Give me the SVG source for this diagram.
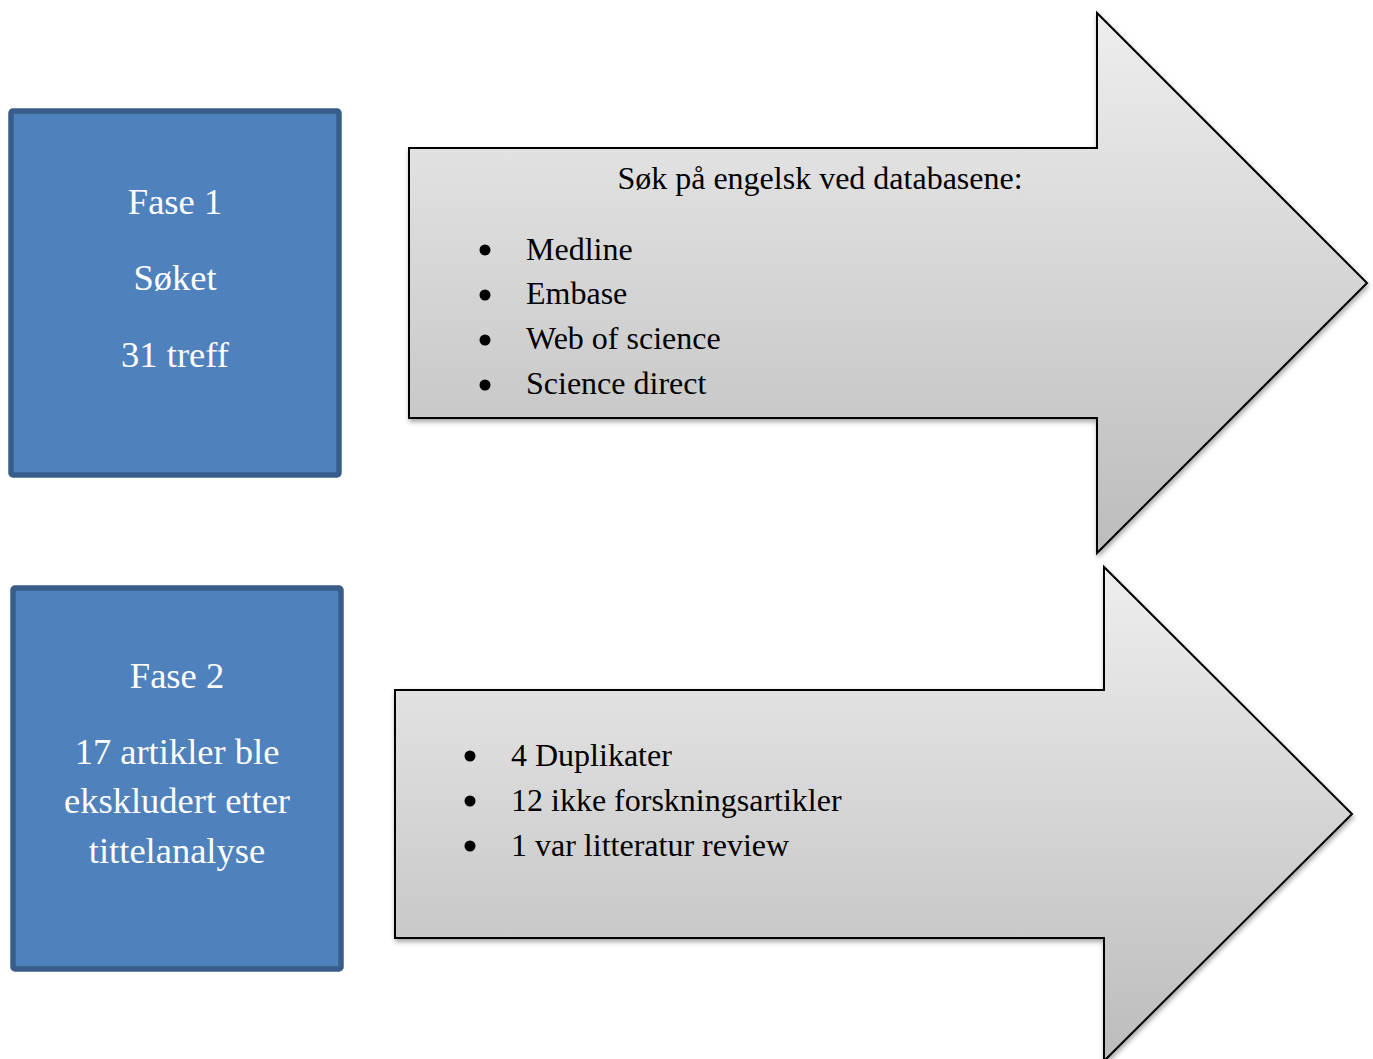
<svg xmlns="http://www.w3.org/2000/svg" width="1373" height="1059" viewBox="0 0 1373 1059">
<style>
.box{fill:#4f81bd;stroke:#385d8a;stroke-width:5.5}
.arr{fill:url(#g);stroke:#000;stroke-width:2;filter:url(#sh)}
.bt{font-family:"Liberation Serif","Times New Roman",serif;font-size:36.5px;fill:#fff;text-anchor:middle}
.at{font-family:"Liberation Serif","Times New Roman",serif;font-size:32px;fill:#000}
.dot{fill:#000}
</style>
<defs>
<linearGradient id="g" x1="0" y1="0" x2="0" y2="1">
<stop offset="0" stop-color="#eeeeee"/>
<stop offset="1" stop-color="#bcbcbc"/>
</linearGradient>
<filter id="sh" x="-5%" y="-5%" width="110%" height="110%">
<feDropShadow dx="1" dy="3" stdDeviation="2.5" flood-color="#000" flood-opacity="0.35"/>
</filter>
</defs>
<g id="fase1">
<rect class="box" x="11" y="111" width="328" height="364" rx="2"/>
<text class="bt" x="175" y="214">Fase 1</text>
<text class="bt" x="175" y="290">Søket</text>
<text class="bt" x="175" y="367">31 treff</text>
</g>
<g id="arrow1">
<path class="arr" d="M409,148 H1097 V13 L1367,283 L1097,553 V418 H409 Z"/>
<text class="at" x="820" y="189" text-anchor="middle">Søk på engelsk ved databasene:</text>
<circle class="dot" cx="485" cy="250" r="5.5"/>
<text class="at" x="526" y="260">Medline</text>
<circle class="dot" cx="485" cy="295" r="5.5"/>
<text class="at" x="526" y="304">Embase</text>
<circle class="dot" cx="485" cy="340" r="5.5"/>
<text class="at" x="526" y="349">Web of science</text>
<circle class="dot" cx="485" cy="385" r="5.5"/>
<text class="at" x="526" y="394">Science direct</text>
</g>
<g id="fase2">
<rect class="box" x="13" y="588" width="328" height="381" rx="2"/>
<text class="bt" x="177" y="688">Fase 2</text>
<text class="bt" x="177" y="764">17 artikler ble</text>
<text class="bt" x="177" y="813">ekskludert etter</text>
<text class="bt" x="177" y="863">tittelanalyse</text>
</g>
<g id="arrow2">
<path class="arr" d="M395,690 H1104 V567 L1352,814 L1104,1061 V938 H395 Z"/>
<circle class="dot" cx="470" cy="756" r="5.5"/>
<text class="at" x="511" y="766">4 Duplikater</text>
<circle class="dot" cx="470" cy="801" r="5.5"/>
<text class="at" x="511" y="811">12 ikke forskningsartikler</text>
<circle class="dot" cx="470" cy="846" r="5.5"/>
<text class="at" x="511" y="856">1 var litteratur review</text>
</g>
<g id="connectors"></g>
</svg>
